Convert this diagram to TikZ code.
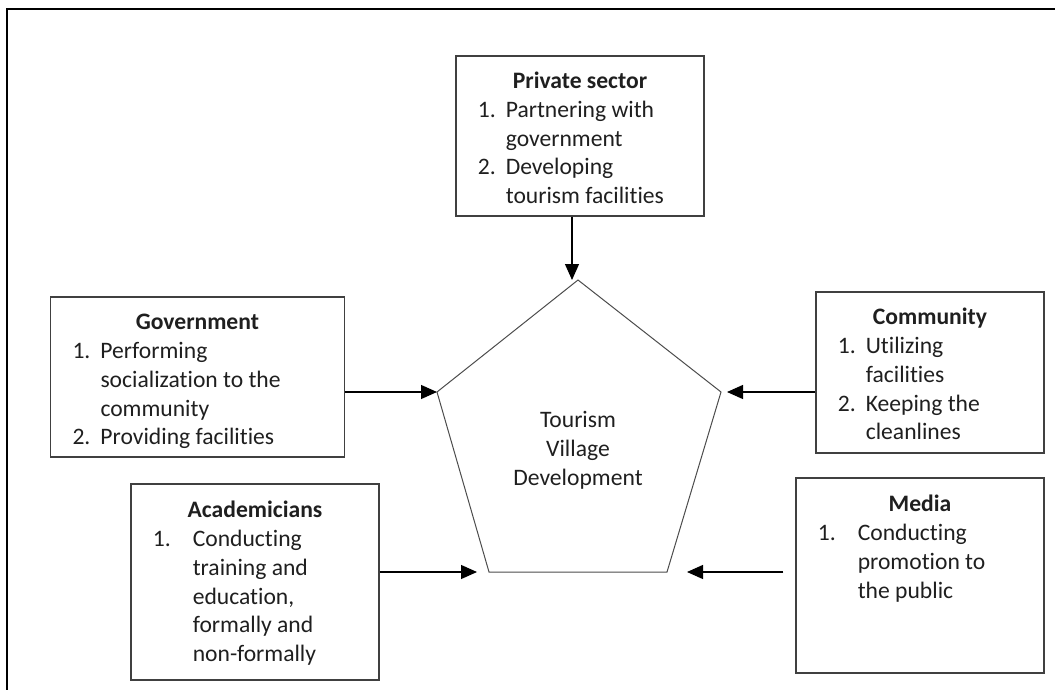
\documentclass[tikz,border=0pt]{standalone}
\usepackage{fontspec}
\setmainfont{Carlito}[Ligatures=NoCommon]
\usetikzlibrary{arrows.meta}

\newcommand{\boxfont}{\fontsize{11.8}{14.4}\selectfont}
% numbered list: #1 = width of the number column
\newcommand{\tasklist}[2]{\begin{tabular}[t]{@{}p{#1}@{}l@{}}#2\end{tabular}}

\tikzset{
  actor/.style={draw=black!75, line width=0.6pt, inner sep=0pt},
  title/.style={anchor=base, inner sep=0pt, font=\boxfont\bfseries},
  tasks/.style={anchor=base west, inner sep=0pt, font=\boxfont},
  flow/.style={line width=0.6pt, -{Triangle[length=8pt,width=7pt]}},
}

\begin{document}
\begin{tikzpicture}[x=0.5pt, y=-0.5pt, text=black!88]
\useasboundingbox (0,0) rectangle (1055,690);
% outer frame, only top and left edges show
\draw[line width=1.2pt] (7,690) -- (7,9) -- (1055,9);

% the pentagon in the middle
\coordinate (top) at (578,280);
\coordinate (ul) at (437,392);
\coordinate (ur) at (721,392);
\coordinate (bl) at (489,572);
\coordinate (br) at (667,572);
\draw[black!70, line width=0.5pt] (top) -- (ur) -- (br) -- (bl) -- (ul) -- cycle;
\node[align=center, font=\boxfont] (hub) at (578,450) {Tourism\\Village\\Development};

% stakeholders
\node[actor, minimum width=124pt, minimum height=80pt] (private) at (580,136) {};
\node[actor, minimum width=146.7pt, minimum height=80pt] (gov) at (197.4,377) {};
\node[actor, minimum width=114pt, minimum height=80.5pt] (comm) at (930,372.5) {};
\node[actor, minimum width=124pt, minimum height=98pt] (acad) at (255,582) {};
\node[actor, minimum width=124pt, minimum height=97.5pt] (media) at (920,575.5) {};

\node[title] (private-title) at ([yshift=-16.5pt]private.north) {Private sector};
\node[tasks] (private-tasks) at ([xshift=11pt,yshift=-31pt]private.north west)
  {\tasklist{14pt}{1. & Partnering with\\ & government\\ 2. & Developing\\ & tourism facilities}};

\node[title] (gov-title) at ([yshift=-16.5pt]gov.north) {Government};
\node[tasks] (gov-tasks) at ([xshift=11pt,yshift=-31pt]gov.north west)
  {\tasklist{14pt}{1. & Performing\\ & socialization to the\\ & community\\ 2. & Providing facilities}};

\node[title] (comm-title) at ([yshift=-16.5pt]comm.north) {Community};
\node[tasks] (comm-tasks) at ([xshift=11pt,yshift=-31pt]comm.north west)
  {\tasklist{14pt}{1. & Utilizing\\ & facilities\\ 2. & Keeping the\\ & cleanlines}};

\node[title] (acad-title) at ([yshift=-17pt]acad.north) {Academicians};
\node[tasks] (acad-tasks) at ([xshift=11pt,yshift=-31.5pt]acad.north west)
  {\tasklist{20pt}{1. & Conducting\\ & training and\\ & education,\\ & formally and\\ & non-formally}};

\node[title] (media-title) at ([yshift=-17pt]media.north) {Media};
\node[tasks] (media-tasks) at ([xshift=11pt,yshift=-31.5pt]media.north west)
  {\tasklist{20pt}{1. & Conducting\\ & promotion to\\ & the public}};

% arrows into the pentagon
\draw[flow] ([xshift=-4pt]private.south) -- ([xshift=-4pt]private.south |- top);
\draw[flow] (gov.east |- ul) -- (ul);
\draw[flow] (comm.west |- ur) -- ([xshift=3pt]ur);
\draw[flow] (acad.east |- bl) -- ([xshift=-6pt]bl);
\draw[flow] (media.west |- br) ++(-6pt,0) -- ([xshift=10pt]br);
\end{tikzpicture}
\end{document}
